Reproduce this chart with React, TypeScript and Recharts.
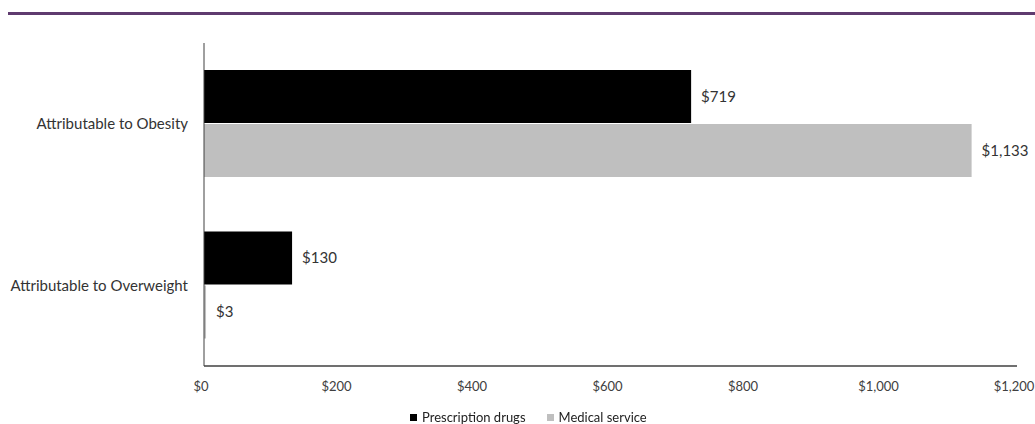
import React from 'react';
import { BarChart, Bar, XAxis, YAxis, Legend, LabelList } from 'recharts';

const categories = ['Attributable to Obesity', 'Attributable to Overweight'];
const prescriptionDrugs = [719, 130];
const medicalService = [1133, 3];
const xTicks = [0, 200, 400, 600, 800, 1000, 1200];
const seriesNames = ['Prescription drugs', 'Medical service'];
const seriesColors = ['#000000', '#BFBFBF'];

const data = categories.map((c, i) => ({
  category: c,
  rx: prescriptionDrugs[i],
  med: medicalService[i],
}));

const FONT = 'Lato, "Open Sans", sans-serif';
const fmt = (v: any) => '$' + Number(v).toLocaleString('en-US');

const LegendContent = () => (
  <div style={{ display: 'flex', alignItems: 'center', fontFamily: FONT, fontSize: 13, color: '#222', whiteSpace: 'nowrap' }}>
    {seriesNames.map((n, i) => (
      <div key={n} style={{ display: 'flex', alignItems: 'center', marginRight: i === 0 ? 21 : 0 }}>
        <span style={{ display: 'inline-block', width: 7, height: 7, background: seriesColors[i], marginRight: 5 }} />
        <span>{n}</span>
      </div>
    ))}
  </div>
);

export default function App() {
  return (
    <div style={{ position: 'fixed', left: 0, top: 0, width: 1035, height: 424, background: '#fff' }}>
      <div style={{ position: 'absolute', left: 8, top: 12, width: 1027, height: 3, background: '#5F3B6F' }} />
      <div style={{ position: 'absolute', left: 0, top: 0 }}>
        <BarChart
          width={1035}
          height={424}
          data={data}
          layout="vertical"
          margin={{ top: 43, right: 18, bottom: 28, left: 0 }}
          barSize={53}
          barGap={1}
        >
          <XAxis
            type="number"
            domain={[0, 1200]}
            ticks={xTicks}
            tickFormatter={fmt}
            tickLine={false}
            axisLine={{ stroke: '#404040', strokeWidth: 1.5 }}
            tick={{ fill: '#404040', fontSize: 13, fontFamily: FONT, dx: -3 }}
            tickMargin={10}
            height={30}
            interval={0}
          />
          <YAxis
            type="category"
            dataKey="category"
            width={204}
            tickLine={false}
            axisLine={{ stroke: '#404040', strokeWidth: 1 }}
            tick={{ fill: '#333', fontSize: 15, fontFamily: FONT }}
            tickMargin={10}
          />
          <Legend
            layout="horizontal"
            verticalAlign="middle"
            align="center"
            wrapperStyle={{ top: 409, left: 410, width: 'auto', height: 'auto' }}
            content={<LegendContent />}
          />
          <Bar dataKey="rx" name={seriesNames[0]} fill={seriesColors[0]} isAnimationActive={false}>
            <LabelList dataKey="rx" position="right" offset={10} formatter={fmt} style={{ fill: '#333', fontSize: 15, fontFamily: FONT }} />
          </Bar>
          <Bar dataKey="med" name={seriesNames[1]} fill={seriesColors[1]} isAnimationActive={false}>
            <LabelList dataKey="med" position="right" offset={10} formatter={fmt} style={{ fill: '#333', fontSize: 15, fontFamily: FONT }} />
          </Bar>
        </BarChart>
      </div>
    </div>
  );
}
